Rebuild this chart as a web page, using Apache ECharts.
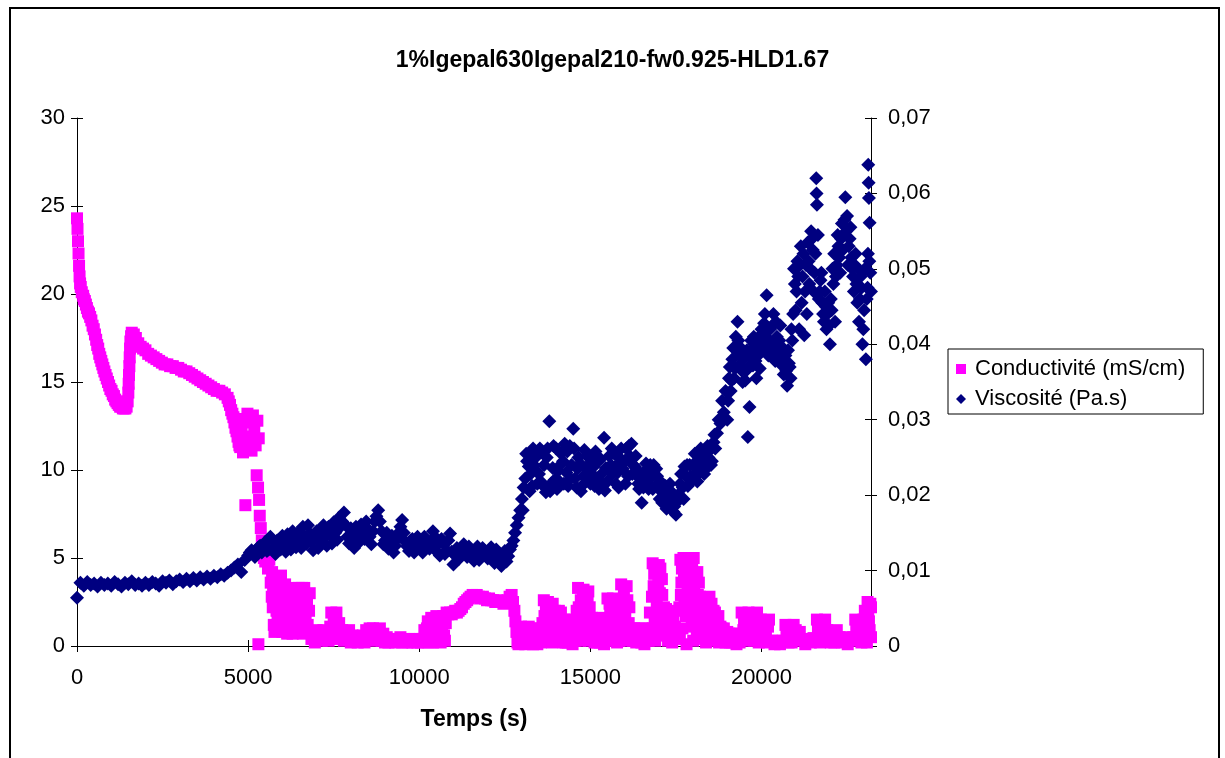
<!DOCTYPE html>
<html>
<head>
<meta charset="utf-8">
<title>1%Igepal630Igepal210-fw0.925-HLD1.67</title>
<script src="https://cdn.jsdelivr.net/npm/echarts@6/dist/echarts.min.js"></script>
<style>
    html,body{margin:0;padding:0;background:#fff;}
    #wrap{position:relative;width:1225px;height:758px;overflow:hidden;}
    #chart{width:1225px;height:758px;}
    #frame{position:absolute;left:9px;top:7px;width:1207px;height:780px;border:2px solid #000;pointer-events:none;}
</style>
</head>
<body>
<div id="wrap">
    <div id="chart"></div>
    <div id="frame"></div>
</div>
<script>
var chartTitle = '1%Igepal630Igepal210-fw0.925-HLD1.67';
var xName = 'Temps (s)';
var seriesNames = ['Conductivité (mS/cm)', 'Viscosité (Pa.s)'];
var xTicks = [0, 5000, 10000, 15000, 20000];   // l'axe va jusqu'a 23200
var xMax = 23200;
var yLeftTicks = [0, 5, 10, 15, 20, 25, 30];
var yRightTicks = [0, 0.01, 0.02, 0.03, 0.04, 0.05, 0.06, 0.07];

// conductivité (mS/cm) : [temps s, valeur]
var condData = [
    [0,24.3],[15,23.7],[30,23.0],[45,22.3],[60,21.6],[75,21.0],[90,20.6],[110,20.4],[140,20.1],
    [180,19.9],[230,19.6],[290,19.2],[350,18.9],[420,18.5],[490,18.0],[560,17.4],[620,16.9],[680,16.4],
    [740,16.0],[800,15.6],[870,15.2],[940,14.8],[1010,14.5],[1080,14.2],[1150,13.9],[1220,13.7],[1300,13.6],
    [1380,13.5],[1450,13.6],[1500,14.4],[1520,15.4],[1540,16.4],[1560,17.3],[1600,17.8],[1660,17.7],[1720,17.5],
    [1790,17.2],[1860,17.0],[1930,16.9],[2000,16.8],[2080,16.6],[2160,16.5],[2240,16.4],[2320,16.3],[2400,16.2],
    [2480,16.1],[2560,16.0],[2640,16.0],[2720,15.9],[2800,15.9],[2880,15.8],[2960,15.8],[3040,15.7],[3120,15.6],
    [3200,15.6],[3280,15.5],[3360,15.4],[3440,15.3],[3520,15.2],[3600,15.1],[3680,15.0],[3760,14.9],[3840,14.8],
    [3920,14.7],[4000,14.6],[4080,14.5],[4160,14.5],[4240,14.4],[4320,14.3],[4400,14.1],[4470,13.7],[4540,13.2],
    [4600,12.7],[4660,12.2],[4720,11.6],[4770,11.3],[4810,12.4],[4850,11.0],[4890,12.9],[4920,8.0],[4940,11.6],
    [4980,13.2],[5020,11.9],[5060,12.7],[5100,11.1],[5140,13.1],[5180,12.2],[5220,11.4],[5250,9.7],[5270,12.8],
    [5290,9.0],[5300,0.1],[5310,11.8],[5320,8.3],[5340,7.4],[5370,6.7],[5400,6.0],[5430,5.4],[5460,5.0],
    [5500,4.8],[5540,5.2],[5580,4.4],[5620,4.9],[5660,3.6],[5700,4.2],[5720,2.2],[5750,1.2],[5780,3.8],
    [5810,2.8],[5840,0.9],[5880,3.5],[5920,1.8],[5960,4.0],[6000,0.8],[6040,2.6],[6080,3.5],[6120,1.4],
    [6160,2.9],[6200,0.8],[6240,2.1],[6280,3.3],[6320,1.2],[6360,2.5],[6400,0.8],[6440,1.9],[6480,3.3],
    [6520,1.1],[6560,2.6],[6600,0.7],[6640,3.3],[6680,1.6],[6720,2.4],[6760,0.8],[6800,3.0],
    [6850,0.4],[6900,0.8],[6950,0.2],[7000,0.9],[7050,0.5],[7100,0.8],[7150,0.3],[7200,0.9],[7250,0.5],
    [7300,0.8],[7350,0.3],[7400,1.1],[7430,1.9],[7460,0.6],[7500,1.6],[7540,0.9],[7580,1.9],[7620,0.4],
    [7660,1.3],[7700,0.7],[7750,0.9],[7800,0.3],[7850,0.8],[7900,0.5],[7950,0.9],[8000,0.2],[8050,0.6],
    [8100,0.3],[8150,0.5],[8200,0.2],[8250,0.4],[8300,0.3],[8350,0.6],[8400,0.2],[8450,0.9],[8500,0.4],
    [8550,1.0],[8600,0.5],[8650,1.0],[8700,0.3],[8750,0.9],[8800,0.6],[8850,1.0],[8900,0.3],[8950,0.7],
    [9000,0.2],[9050,0.5],[9100,0.2],[9150,0.4],[9200,0.3],[9250,0.4],[9300,0.2],[9350,0.4],[9400,0.3],
    [9450,0.5],[9500,0.2],[9550,0.4],[9600,0.3],[9650,0.2],[9700,0.4],[9750,0.3],[9800,0.2],[9850,0.4],
    [9900,0.3],[9950,0.2],[10000,0.4],[10050,0.2],[10100,0.4],[10150,0.9],[10200,0.3],[10250,1.4],[10300,0.6],
    [10350,1.6],[10400,0.2],[10450,1.1],[10500,1.7],[10550,0.5],[10600,1.4],[10650,0.9],[10700,1.7],[10750,0.3],
    [10800,1.9],[10850,1.8],[10900,1.9],[10950,1.8],[11000,1.9],[11050,2.0],[11100,1.9],[11150,2.0],[11200,2.1],
    [11250,2.2],[11300,2.4],[11350,2.5],[11400,2.6],[11450,2.7],[11500,2.8],[11560,2.9],[11620,2.8],[11680,2.9],
    [11740,2.8],[11800,2.7],[11860,2.8],[11920,2.7],[11980,2.6],[12040,2.7],[12100,2.6],[12160,2.6],[12220,2.5],
    [12280,2.6],[12340,2.5],[12400,2.5],[12460,2.4],[12520,2.5],[12580,2.6],[12640,2.8],[12700,2.9],[12740,2.5],
    [12780,2.0],[12810,1.4],[12840,0.8],[12870,0.2],
    [12900,0.1],[12950,0.8],[13000,0.3],[13050,1.0],[13100,0.1],[13150,0.6],[13200,1.1],[13250,0.2],[13300,0.8],
    [13350,0.4],[13400,1.0],[13450,0.1],[13500,0.6],[13550,0.2],[13600,1.3],[13640,2.6],[13680,0.5],[13720,1.9],
    [13760,2.5],[13800,1.0],[13840,2.2],[13880,0.2],[13920,1.6],[13960,2.0],[14000,0.8],[14040,1.5],[14080,2.0],
    [14120,0.3],[14160,1.4],[14200,0.7],[14240,1.5],[14280,0.2],[14320,1.1],[14360,1.5],[14400,0.5],[14440,1.2],
    [14480,0.1],[14520,0.9],[14560,0.5],[14600,2.0],[14640,3.3],[14680,1.2],[14720,2.6],[14760,0.4],[14800,3.2],
    [14840,1.8],[14880,0.9],[14920,2.6],[14960,0.3],[15000,1.6],[15050,1.6],[15100,0.4],[15150,1.1],[15200,0.2],
    [15250,1.5],[15300,0.7],[15350,1.6],[15400,0.1],[15450,1.0],[15500,2.7],[15540,1.4],[15580,2.2],[15620,0.5],
    [15660,2.7],[15700,1.0],[15740,1.9],[15780,0.2],[15820,1.0],[15860,2.4],[15900,3.5],[15940,0.6],[15980,2.9],
    [16020,1.6],[16060,3.4],[16100,0.3],[16140,2.2],[16180,1.0],[16230,0.6],[16280,1.0],[16340,0.2],[16400,0.8],
    [16460,0.4],[16520,1.0],[16580,0.1],[16640,0.7],[16700,0.3],[16740,1.9],[16780,1.0],[16820,4.7],[16850,3.4],
    [16880,1.6],[16910,4.2],[16940,2.5],[16970,0.6],[17000,4.6],[17030,3.0],[17060,1.2],[17090,3.8],[17110,2.1],
    [17150,2.2],[17190,0.8],[17230,1.6],[17270,0.3],[17310,2.0],[17350,1.1],[17390,0.2],[17430,1.5],[17470,1.1],
    [17510,0.4],[17550,0.9],[17600,2.2],[17630,4.9],[17660,3.6],[17690,1.0],[17720,5.0],[17750,2.6],[17780,4.2],
    [17810,0.1],[17840,3.3],[17870,5.0],[17900,2.0],[17930,4.4],[17960,1.1],[17990,3.0],[18020,5.0],[18050,1.8],
    [18080,4.0],[18110,0.5],[18140,2.9],[18170,3.6],[18200,2.8],[18240,1.2],[18280,2.2],[18320,0.4],[18360,2.6],
    [18400,1.6],[18440,0.8],[18480,2.8],[18520,1.9],[18560,0.3],[18600,2.0],[18640,1.9],[18680,0.7],[18720,1.4],
    [18760,0.2],[18800,1.1],[18850,0.5],[18900,1.0],[18950,0.2],[19000,0.8],[19060,0.7],[19120,0.2],[19180,0.6],
    [19240,0.3],[19300,0.7],[19360,0.2],[19420,1.9],[19470,0.9],[19520,1.5],[19570,0.3],[19620,1.9],[19670,1.1],
    [19720,0.4],[19770,1.6],[19820,0.8],[19870,1.9],[19920,0.2],[19980,1.5],[20040,0.6],[20100,1.3],[20160,0.2],
    [20220,1.5],[20300,0.3],[20380,0.1],[20460,0.3],[20540,0.1],[20620,0.3],[20700,1.2],[20760,0.4],[20820,1.0],
    [20880,0.2],[20940,1.2],[21000,0.9],[21060,0.3],[21120,0.8],[21200,0.4],[21280,0.1],[21360,0.4],[21440,0.2],
    [21520,0.45],[21620,1.5],[21680,0.6],[21740,1.2],[21800,0.3],[21860,1.5],[21920,0.9],[21990,0.3],[22060,0.8],
    [22130,0.2],[22200,0.9],[22280,0.5],[22360,0.2],[22440,0.5],[22520,0.1],[22600,0.4],[22680,0.5],[22740,1.5],
    [22800,0.6],[22860,1.3],[22920,0.2],[22980,1.5],[23020,2.0],[23060,0.8],[23100,2.5],[23140,1.4],[23180,2.4],
    [23200,0.5],
    // releves intermediaires
    [200,19.7],[260,19.4],[320,19.0],[385,18.7],[455,18.2],[525,17.7],[590,17.1],[650,16.6],[710,16.2],[770,15.8],
    [835,15.4],[905,15.0],[975,14.6],[1045,14.3],[1115,14.0],[1185,13.8],[1260,13.6],[1340,13.5],[1415,13.5],
    [1480,13.9],[1510,14.9],[1530,15.9],[1550,16.9],[1580,17.6],
    [4435,13.9],[4505,13.4],[4570,13.0],[4630,12.4],[4690,11.9],[4745,11.4],
    [5690,2.8],[5730,3.2],[5770,0.8],[5830,2.0],[5860,1.4],[5900,2.6],[5940,1.0],[5980,2.2],[6020,3.0],[6060,1.1],
    [6100,2.3],[6140,0.7],[6180,1.8],[6220,3.2],[6260,1.5],[6300,0.7],[6340,2.9],[6380,1.7],[6420,2.7],[6460,0.8],
    [6500,2.2],[6540,1.6],[6580,3.3],[6620,1.9],[6660,0.9],[6700,2.8],[6740,1.2],[6780,2.0],
    [10175,0.5],[10225,1.0],[10275,0.2],[10325,1.1],[10375,0.8],[10425,1.5],[10475,0.4],[10525,1.2],[10575,0.9],
    [10625,0.2],[10675,1.2],[10725,0.6],[10775,1.3],
    [12925,0.5],[12975,1.1],[13025,0.2],[13075,0.6],[13125,0.9],[13175,0.2],[13225,0.6],[13275,1.0],[13325,0.1],
    [13375,0.7],[13425,0.5],[13475,0.9],[13525,0.3],
    [13620,0.3],[13660,1.7],[13700,2.3],[13740,0.9],[13780,1.4],[13820,0.4],[13860,1.2],[13900,2.4],[13940,0.8],
    [14020,1.8],[14060,0.3],[14100,1.0],[14140,1.9],[14180,0.9],[14220,0.2],[14260,1.1],[14300,0.7],[14340,0.2],
    [14380,0.9],[14420,0.3],[14460,0.8],[14500,1.4],[14540,0.3],
    [14620,1.0],[14660,2.2],[14700,0.3],[14740,1.7],[14780,2.8],[14820,0.8],[14860,2.5],[14900,1.4],[14940,3.1],[14980,2.2],
    [15025,0.8],[15075,1.2],[15125,0.2],[15175,1.5],[15225,0.7],[15275,0.2],[15325,1.1],[15375,0.6],[15425,1.4],[15475,0.3],
    [15520,0.4],[15560,2.4],[15600,0.6],[15640,1.6],[15680,2.2],[15720,0.3],[15760,2.6],
    [15840,0.3],[15880,1.5],[15920,2.0],[15960,1.2],[16000,2.4],[16040,0.5],[16080,2.6],[16120,1.3],[16160,0.6],
    [16250,0.3],[16310,0.8],[16370,0.5],[16430,1.0],[16490,0.2],[16550,0.6],[16610,0.9],[16670,0.5],
    [16760,0.5],[16800,2.8],[16835,1.0],[16865,4.1],[16895,0.3],[16925,3.2],[16955,1.8],[16985,3.6],[17015,2.0],
    [17045,4.4],[17075,0.8],[17100,2.9],
    [17170,1.3],[17210,2.1],[17250,0.6],[17290,1.4],[17330,0.4],[17370,1.8],[17410,0.9],
    [17615,0.6],[17645,2.9],[17675,4.4],[17705,2.0],[17735,3.8],[17765,4.7],[17795,1.7],[17825,2.5],[17855,3.9],
    [17885,4.6],[17915,3.0],[17945,1.8],[17975,4.6],[18005,0.3],[18035,3.4],[18065,2.4],[18095,1.4],[18125,4.2],[18155,0.9],
    [18220,0.5],[18260,1.7],[18300,2.7],[18340,1.3],[18380,0.2],[18420,2.1],[18460,1.1],[18500,0.5],[18540,2.4],[18580,1.3],
    [18660,1.3],[18700,0.4],[18740,1.7],[18780,0.7],[18830,1.0],[18880,0.3],[18930,0.7],[18980,0.4],[19030,0.6],
    [19090,0.2],[19150,0.7],[19210,0.4],[19270,0.1],[19330,0.5],
    [19440,0.4],[19490,1.4],[19540,0.8],[19590,1.2],[19640,0.4],[19690,1.6],[19740,1.0],[19790,0.3],[19840,1.3],[19890,0.7],
    [20010,1.0],[20070,0.3],[20130,0.9],[20190,1.1],
    [20730,0.8],[20790,0.2],[20850,0.7],[20910,0.5],
    [21650,1.0],[21710,0.2],[21770,0.8],[21830,1.1],
    [21955,0.5],[22025,0.2],[22095,0.6],[22165,0.4],
    [22770,0.9],[22830,0.3],[22890,1.0],[22950,0.6],[23000,1.2],[23040,1.8],[23080,0.2],[23120,1.9],[23160,0.9],[23200,2.2]
];

// viscosité (Pa.s) : [temps s, valeur]
var viscData = [
    [0,0.0064],[100,0.0084],[200,0.0080],[300,0.0085],[400,0.0081],[500,0.0083],[600,0.0079],[700,0.0084],[800,0.0081],[900,0.0083],
    [1000,0.0080],[1100,0.0085],[1200,0.0082],[1300,0.0079],[1400,0.0084],[1500,0.0082],[1600,0.0086],[1700,0.0081],[1800,0.0083],[1900,0.0080],
    [2000,0.0084],[2100,0.0081],[2200,0.0085],[2300,0.0083],[2400,0.0080],[2500,0.0086],[2600,0.0084],[2700,0.0087],[2800,0.0082],[2900,0.0086],
    [3000,0.0088],[3100,0.0085],[3200,0.0089],[3300,0.0086],[3400,0.0090],[3500,0.0087],[3600,0.0091],[3700,0.0088],[3800,0.0092],[3900,0.0089],
    [4000,0.0093],[4100,0.0091],[4200,0.0095],[4300,0.0093],[4400,0.0097],[4500,0.0100],[4600,0.0104],[4700,0.0108],[4800,0.0098],[4900,0.0114],
    [5000,0.0120],[5100,0.0127],[5200,0.0118],[5300,0.0131],[5400,0.0124],[5500,0.0138],[5600,0.0128],[5700,0.0141],[5800,0.0122],[5900,0.0135],
    [6000,0.0146],[6100,0.0125],[6200,0.0139],[6300,0.0152],[6400,0.0131],[6500,0.0144],[6600,0.0158],[6700,0.0136],[6800,0.0149],[6900,0.0127],
    [7000,0.0152],[7100,0.0140],[7200,0.0160],[7300,0.0133],[7400,0.0148],[7500,0.0164],[7600,0.0141],[7700,0.0158],[7800,0.0177],[7900,0.0145],
    [8000,0.0156],[8100,0.0130],[8200,0.0149],[8300,0.0161],[8400,0.0142],[8500,0.0155],[8600,0.0135],[8700,0.0165],[8800,0.0180],[8900,0.0152],
    [9000,0.0140],[9100,0.0129],[9200,0.0146],[9300,0.0133],[9400,0.0150],[9500,0.0167],[9600,0.0138],[9700,0.0126],[9800,0.0142],[9900,0.0131],
    [10000,0.0138],[10100,0.0124],[10200,0.0140],[10300,0.0129],[10400,0.0152],[10500,0.0143],[10600,0.0120],[10700,0.0136],[10800,0.0127],[10900,0.0149],
    [11000,0.0108],[11100,0.0130],[11200,0.0122],[11300,0.0135],[11400,0.0118],[11500,0.0128],[11600,0.0113],[11700,0.0132],[11800,0.0120],[11900,0.0127],
    [12000,0.0116],[12100,0.0131],[12200,0.0110],[12300,0.0124],[12400,0.0106],[12500,0.0126],[12600,0.0119],[12700,0.0133],[12800,0.0150],[12900,0.0170],
    [13000,0.0195],[13100,0.0222],[13200,0.0238],[13300,0.0212],[13400,0.0250],[13500,0.0228],[13600,0.0258],[13700,0.0204],[13800,0.0298],[13900,0.0236],
    [14000,0.0262],[14100,0.0218],[14200,0.0245],[14300,0.0230],[14400,0.0265],[14500,0.0288],[14600,0.0210],[14700,0.0242],[14800,0.0225],[14900,0.0252],
    [15000,0.0215],[15100,0.0238],[15200,0.0222],[15300,0.0248],[15400,0.0276],[15500,0.0218],[15600,0.0240],[15700,0.0255],[15800,0.0230],[15900,0.0262],
    [16000,0.0245],[16100,0.0225],[16200,0.0268],[16300,0.0238],[16400,0.0215],[16500,0.0190],[16600,0.0232],[16700,0.0208],[16800,0.0226],[16900,0.0212],
    [17000,0.0208],[17100,0.0190],[17200,0.0212],[17300,0.0186],[17400,0.0198],[17500,0.0174],[17600,0.0194],[17700,0.0210],[17800,0.0225],[17900,0.0240],
    [18000,0.0222],[18100,0.0245],[18200,0.0230],[18300,0.0252],[18400,0.0236],[18500,0.0260],[18600,0.0270],[18700,0.0282],
    // releves intermediaires
    [5050,0.0124],[5150,0.0122],[5250,0.0128],[5350,0.0133],[5450,0.0130],[5550,0.0126],[5650,0.0145],[5750,0.0130],[5850,0.0140],[5950,0.0128],
    [6050,0.0133],[6150,0.0148],[6250,0.0128],[6350,0.0140],[6450,0.0150],[6550,0.0130],[6650,0.0145],[6750,0.0160],[6850,0.0138],[6950,0.0145],
    [7050,0.0130],[7150,0.0150],[7250,0.0145],[7350,0.0158],[7450,0.0136],[7550,0.0150],[7650,0.0170],[7750,0.0165],[7850,0.0160],[7950,0.0136],
    [8050,0.0145],[8150,0.0158],[8250,0.0138],[8350,0.0150],[8450,0.0165],[8550,0.0145],[8650,0.0152],[8750,0.0172],[8850,0.0165],[8950,0.0135],
    [9050,0.0150],[9150,0.0138],[9250,0.0124],[9350,0.0142],[9450,0.0158],[9550,0.0150],[9650,0.0132],[9750,0.0140],[9850,0.0124],[9950,0.0145],
    [10050,0.0130],[10150,0.0145],[10250,0.0134],[10350,0.0140],[10450,0.0128],[10550,0.0135],[10650,0.0142],[10750,0.0122],[10850,0.0140],[10950,0.0125],
    [11050,0.0120],[11150,0.0115],[11250,0.0130],[11350,0.0124],[11450,0.0132],[11550,0.0119],[11650,0.0126],[11750,0.0114],[11850,0.0130],[11950,0.0122],
    [12050,0.0125],[12150,0.0118],[12250,0.0128],[12350,0.0115],[12450,0.0122],[12550,0.0112],[12650,0.0128],[12750,0.0140],[12850,0.0160],[12950,0.0180],
    [13050,0.0210],[13150,0.0245],[13250,0.0228],[13350,0.0240],[13450,0.0215],[13550,0.0218],[13650,0.0240],[13750,0.0262],[13850,0.0215],[13950,0.0220],
    [14050,0.0232],[14150,0.0255],[14250,0.0268],[14350,0.0212],[14450,0.0240],[14550,0.0222],[14650,0.0250],[14750,0.0212],[14850,0.0236],[14950,0.0240],
    [15050,0.0228],[15150,0.0258],[15250,0.0208],[15350,0.0212],[15450,0.0236],[15550,0.0252],[15650,0.0228],[15750,0.0215],[15850,0.0250],[15950,0.0235],
    [16050,0.0262],[16150,0.0252],[16250,0.0240],[16350,0.0226],[16450,0.0230],[16550,0.0210],[16650,0.0218],[16750,0.0240],[16850,0.0240],[16950,0.0225],
    [17050,0.0218],[17150,0.0200],[17250,0.0195],[17350,0.0205],[17450,0.0185],[17550,0.0200],[17650,0.0228],[17750,0.0238],[17850,0.0212],[17950,0.0218],
    [18050,0.0255],[18150,0.0232],[18250,0.0242],[18350,0.0240],[18450,0.0250],[18550,0.0245],[18650,0.0262],
    // bords haut/bas de la bande 13000-18700 s
    [13025,0.0180],[13125,0.0255],[13225,0.0205],[13325,0.0262],[13425,0.0232],[13525,0.0262],[13625,0.0212],[13725,0.0250],[13825,0.0205],[13925,0.0265],
    [14025,0.0208],[14125,0.0240],[14225,0.0215],[14325,0.0258],[14425,0.0222],[14525,0.0262],[14625,0.0235],[14725,0.0205],[14825,0.0260],[14925,0.0222],
    [15025,0.0250],[15125,0.0212],[15225,0.0245],[15325,0.0228],[15425,0.0206],[15525,0.0235],[15625,0.0262],[15725,0.0238],[15825,0.0210],[15925,0.0245],
    [16025,0.0215],[16125,0.0265],[16225,0.0228],[16325,0.0252],[16425,0.0208],[16525,0.0225],[16625,0.0242],[16725,0.0222],[16825,0.0208],[16925,0.0235],
    [17025,0.0195],[17125,0.0212],[17225,0.0182],[17325,0.0215],[17425,0.0178],[17525,0.0192],[17625,0.0215],[17725,0.0195],[17825,0.0240],[17925,0.0225],
    [18025,0.0238],[18125,0.0218],[18225,0.0262],[18325,0.0228],[18425,0.0265],[18525,0.0240],[18625,0.0280],
    [18750,0.0300],[18800,0.0295],[18850,0.0325],[18900,0.0310],[18950,0.0338],
    [19000,0.0300],[19050,0.0355],[19100,0.0338],[19150,0.0380],[19200,0.0355],[19250,0.0410],[19300,0.0430],[19350,0.0372],[19400,0.0395],[19450,0.0350],
    [19500,0.0388],[19550,0.0365],[19600,0.0277],[19650,0.0317],[19700,0.0405],[19750,0.0372],[19800,0.0400],[19850,0.0355],[19900,0.0385],[19950,0.0368],
    [20000,0.0420],[20050,0.0395],[20100,0.0440],[20150,0.0465],[20200,0.0385],[20250,0.0420],[20300,0.0400],[20350,0.0440],[20400,0.0378],[20450,0.0410],
    [20500,0.0392],[20550,0.0425],[20600,0.0372],[20650,0.0360],[20700,0.0385],[20750,0.0345],[20800,0.0375],[20850,0.0355],[20900,0.0405],[20950,0.0500],
    [21000,0.0445],[21050,0.0510],[21100,0.0420],[21150,0.0530],[21200,0.0490],[21250,0.0412],[21300,0.0505],[21350,0.0535],[21400,0.0480],[21450,0.0550],
    [21500,0.0525],[21550,0.0495],[21600,0.0620],[21610,0.0600],[21620,0.0585],[21650,0.0545],[21700,0.0470],[21750,0.0495],[21800,0.0440],[21850,0.0470],
    [21900,0.0420],[21950,0.0455],[22000,0.0400],[22050,0.0445],[22100,0.0480],[22150,0.0430],[22200,0.0505],[22250,0.0530],[22300,0.0495],[22350,0.0560],
    [22400,0.0545],[22450,0.0595],[22500,0.0570],[22550,0.0530],[22600,0.0555],[22650,0.0500],[22700,0.0470],[22750,0.0520],[22800,0.0455],[22850,0.0430],
    [22900,0.0490],[22950,0.0400],[23000,0.0445],[23050,0.0380],[23100,0.0475],[23120,0.0638],[23130,0.0614],[23140,0.0594],[23150,0.0510],[23160,0.0561],
    [23180,0.0495],[23200,0.0470],
    // nuage dense apres 19000 s
    [19025,0.0325],[19075,0.0370],[19125,0.0352],[19175,0.0395],[19225,0.0368],[19275,0.0392],[19325,0.0405],[19375,0.0385],[19425,0.0365],[19475,0.0380],
    [19525,0.0352],[19575,0.0392],[19625,0.0370],[19675,0.0385],[19725,0.0392],[19775,0.0410],[19825,0.0378],[19875,0.0400],[19925,0.0410],[19975,0.0392],
    [20025,0.0405],[20075,0.0428],[20125,0.0410],[20175,0.0420],[20225,0.0405],[20275,0.0392],[20325,0.0425],[20375,0.0395],[20425,0.0430],[20475,0.0385],
    [20525,0.0405],[20575,0.0385],[20625,0.0395],[20675,0.0378],[20725,0.0365],[20775,0.0392],[20825,0.0370],[20875,0.0420],[20925,0.0440],[20975,0.0480],
    [21025,0.0470],[21075,0.0490],[21125,0.0505],[21175,0.0455],[21225,0.0520],[21275,0.0470],[21325,0.0440],[21375,0.0510],[21425,0.0500],[21475,0.0540],
    [21525,0.0470],[21575,0.0520],[21675,0.0460],[21725,0.0485],[21775,0.0455],[21825,0.0430],[21875,0.0450],[21925,0.0440],[21975,0.0425],
    [22025,0.0460],[22075,0.0500],[22125,0.0520],[22175,0.0490],[22225,0.0545],[22275,0.0515],[22325,0.0540],[22375,0.0525],[22425,0.0565],[22475,0.0550],
    [22525,0.0505],[22575,0.0540],[22625,0.0515],[22675,0.0490],[22725,0.0505],[22775,0.0480],[22825,0.0500],[22875,0.0460],[22925,0.0475],[22975,0.0420],
    [23025,0.0500],[23075,0.0460],[23110,0.0520]
];

var FONT = 'Liberation Sans, Arial, sans-serif';
var AXIS_COLOR = '#000';
var GRID_BOX = {left: 77, right: 354, top: 118, bottom: 112};

function decimalComma(v) {
    return v === 0 ? '0' : v.toFixed(2).replace('.', ',');
}

function lastOf(arr) {
    return arr[arr.length - 1];
}

// axe principal (trait + graduations exterieures + etiquettes)
function mainAxis(base) {
    return Object.assign({
        type: 'value',
        gridIndex: 0,
        axisLine: {show: true, onZero: false, lineStyle: {color: AXIS_COLOR, width: 1}},
        axisTick: {show: true, length: 6, lineStyle: {color: AXIS_COLOR, width: 1}},
        splitLine: {show: false}
    }, base);
}

// axe "fantome" sur la 2e grille : seulement les graduations vers l'interieur (graduations croisees)
function innerTicks(base) {
    return Object.assign({
        type: 'value',
        gridIndex: 1,
        axisLine: {show: false, onZero: false},
        axisTick: {show: true, inside: true, length: 6, lineStyle: {color: AXIS_COLOR, width: 1}},
        axisLabel: {show: false},
        splitLine: {show: false}
    }, base);
}

var myChart = echarts.init(document.getElementById('chart'), null, {renderer: 'canvas'});

myChart.setOption({
    animation: false,
    backgroundColor: '#fff',
    title: {
        text: chartTitle,
        left: 'center',
        top: 44,
        textStyle: {fontFamily: FONT, fontSize: 23, fontWeight: 'bold', color: '#000'}
    },
    legend: {
        orient: 'vertical',
        left: 948,
        top: 349,
        padding: [9, 18, 4, 8],
        itemGap: 8,
        itemWidth: 10,
        itemHeight: 10,
        borderColor: '#000',
        borderWidth: 1,
        textStyle: {fontFamily: FONT, fontSize: 22, color: '#000', padding: [0, 0, 0, 4]},
        data: [
            {name: seriesNames[0], icon: 'rect'},
            {name: seriesNames[1], icon: 'diamond'}
        ]
    },
    grid: [
        Object.assign({outerBoundsMode: 'none'}, GRID_BOX),
        Object.assign({outerBoundsMode: 'none'}, GRID_BOX)
    ],
    xAxis: [
        mainAxis({
            min: xTicks[0], max: xMax, interval: xTicks[1] - xTicks[0],
            name: xName,
            nameLocation: 'middle',
            nameGap: 62,
            nameTextStyle: {fontFamily: FONT, fontSize: 23, fontWeight: 'bold', color: '#000'},
            axisLabel: {
                fontFamily: FONT, fontSize: 22, color: '#000', margin: 21, showMaxLabel: false,
                formatter: function (v) { return String(v); }
            }
        }),
        innerTicks({position: 'bottom', min: xTicks[0], max: xMax, interval: xTicks[1] - xTicks[0]})
    ],
    yAxis: [
        mainAxis({
            position: 'left',
            min: yLeftTicks[0], max: lastOf(yLeftTicks), interval: yLeftTicks[1] - yLeftTicks[0],
            axisLabel: {fontFamily: FONT, fontSize: 22, color: '#000', margin: 12}
        }),
        mainAxis({
            position: 'right',
            min: yRightTicks[0], max: lastOf(yRightTicks), interval: yRightTicks[1] - yRightTicks[0],
            axisLabel: {fontFamily: FONT, fontSize: 22, color: '#000', margin: 17, formatter: decimalComma}
        }),
        innerTicks({position: 'left', min: yLeftTicks[0], max: lastOf(yLeftTicks), interval: yLeftTicks[1] - yLeftTicks[0]}),
        innerTicks({position: 'right', min: yRightTicks[0], max: lastOf(yRightTicks), interval: yRightTicks[1] - yRightTicks[0]})
    ],
    series: [{
        name: seriesNames[0],
        type: 'scatter',
        xAxisIndex: 0,
        yAxisIndex: 0,
        symbol: 'rect',
        symbolSize: 12,
        itemStyle: {color: '#FF00FF', opacity: 1},
        data: condData
    }, {
        name: seriesNames[1],
        type: 'scatter',
        xAxisIndex: 0,
        yAxisIndex: 1,
        symbol: 'diamond',
        symbolSize: 14,
        itemStyle: {color: '#000080', opacity: 1},
        data: viscData
    }]
});
</script>
</body>
</html>
